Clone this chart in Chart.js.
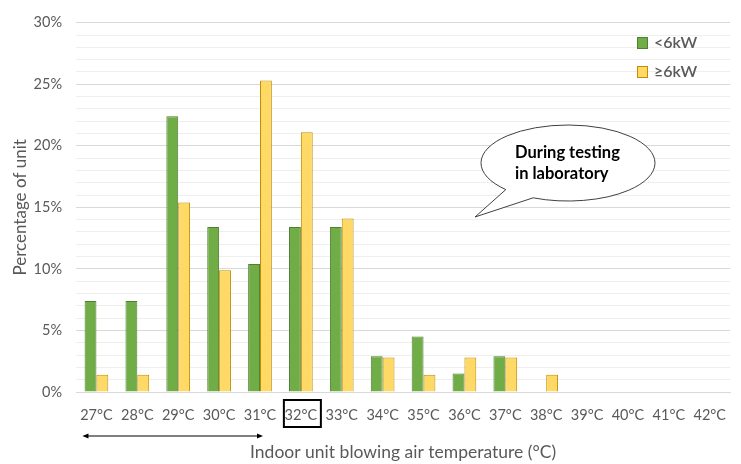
<!DOCTYPE html>
<html>
<head>
<meta charset="utf-8">
<script src="https://cdn.jsdelivr.net/npm/chart.js@4"></script>
<style>
  html, body { margin: 0; padding: 0; background: #fff; }
  #wrap { width: 741px; height: 464px; position: relative; }
</style>
</head>
<body>
<div id="wrap"><canvas id="c" width="741" height="464"></canvas></div>
<script>
const categories = ['27°C','28°C','29°C','30°C','31°C','32°C','33°C','34°C','35°C','36°C','37°C','38°C','39°C','40°C','41°C','42°C'];
const seriesNames = ['<6kW', '≥6kW'];
const smallUnits = [7.4, 7.4, 22.4, 13.4, 10.4, 13.4, 13.4, 2.9, 4.5, 1.5, 2.9, 0, 0, 0, 0, 0];
const largeUnits = [1.4, 1.4, 15.4, 9.9, 25.3, 21.1, 14.1, 2.8, 1.4, 2.8, 2.8, 1.4, 0, 0, 0, 0];
const yTickValues = [0, 5, 10, 15, 20, 25, 30];
const boxedCategory = '32°C';
const arrowFrom = '27°C', arrowTo = '31°C';
const bubbleLines = ['During testing', 'in laboratory'];
const xTitle = 'Indoor unit blowing air temperature (°C)';
const yTitle = 'Percentage of unit';

const FONT = 'Lato, "Open Sans", sans-serif';
const GREY = '#595959';

const extras = {
  id: 'extras',
  afterDraw(chart) {
    const ctx = chart.ctx;
    const xs = chart.scales.x;
    ctx.save();
    // box around 32°C
    const bx = xs.getPixelForValue(categories.indexOf(boxedCategory));
    ctx.strokeStyle = '#000';
    ctx.lineWidth = 2;
    ctx.strokeRect(bx - 17, 400, 37, 27);
    // double arrow
    const ax1 = xs.getPixelForValue(categories.indexOf(arrowFrom)) - 14;
    const ax2 = xs.getPixelForValue(categories.indexOf(arrowTo)) + 3;
    const ay = 436;
    ctx.lineWidth = 1;
    ctx.strokeStyle = '#000';
    ctx.fillStyle = '#000';
    ctx.beginPath(); ctx.moveTo(ax1 + 2, ay); ctx.lineTo(ax2 - 2, ay); ctx.stroke();
    ctx.beginPath(); ctx.moveTo(ax1, ay); ctx.lineTo(ax1 + 6, ay - 2.5); ctx.lineTo(ax1 + 6, ay + 2.5); ctx.closePath(); ctx.fill();
    ctx.beginPath(); ctx.moveTo(ax2, ay); ctx.lineTo(ax2 - 6, ay - 2.5); ctx.lineTo(ax2 - 6, ay + 2.5); ctx.closePath(); ctx.fill();
    // legend
    ctx.font = '600 16px ' + FONT;
    ctx.textBaseline = 'middle';
    ctx.textAlign = 'left';
    chart.data.datasets.forEach((ds, i) => {
      const ly = 43 + i * 29;
      ctx.fillStyle = ds.backgroundColor;
      ctx.fillRect(637, ly - 6, 11, 12);
      ctx.strokeStyle = ds.borderColor;
      ctx.lineWidth = 1;
      ctx.strokeRect(637.5, ly - 5.5, 10, 11);
      ctx.fillStyle = GREY;
      ctx.fillText(ds.label, 654, ly);
    });
    // speech bubble
    const cx = 568, cy = 163, rx = 87, ry = 38;
    const a1 = 135.6 * Math.PI / 180, a2 = (360 + 113.6) * Math.PI / 180;
    ctx.beginPath();
    ctx.ellipse(cx, cy, rx, ry, 0, a1, a2, false);
    ctx.lineTo(475, 217);
    ctx.closePath();
    ctx.fillStyle = '#fff';
    ctx.fill();
    ctx.strokeStyle = '#404040';
    ctx.lineWidth = 1;
    ctx.stroke();
    ctx.fillStyle = '#000';
    ctx.font = 'bold 16.5px ' + FONT;
    ctx.textAlign = 'left';
    ctx.fillText(bubbleLines[0], 515, 153);
    ctx.fillText(bubbleLines[1], 515, 174);
    ctx.restore();
  }
};

new Chart(document.getElementById('c'), {
  type: 'bar',
  data: {
    labels: categories,
    datasets: [
      { label: seriesNames[0], data: smallUnits, backgroundColor: '#70AD47', borderColor: '#507E32', borderWidth: 1 },
      { label: seriesNames[1], data: largeUnits, backgroundColor: '#FFD966', borderColor: '#BF9000', borderWidth: 1 }
    ]
  },
  options: {
    responsive: false,
    animation: false,
    devicePixelRatio: 1,
    layout: { padding: { top: 20, right: 0, left: 0, bottom: 0 } },
    datasets: { bar: { categoryPercentage: 0.58, barPercentage: 1.0 } },
    plugins: { legend: { display: false }, tooltip: { enabled: false } },
    scales: {
      x: {
        grid: { display: false, drawTicks: false },
        border: { display: true, color: '#d9d9d9' },
        ticks: { color: GREY, font: { family: FONT, size: 14.5 }, padding: 15, maxRotation: 0, autoSkip: false },
        title: { display: true, text: xTitle, color: GREY, font: { family: FONT, size: 17.5 }, padding: { top: 0, bottom: 1 } },
        afterFit(s) { s.height = 72; }
      },
      y: {
        min: 0, max: 30,
        grid: {
          drawTicks: false,
          color: ctx => (ctx.tick && ctx.tick.value % 5 === 0) ? '#d9d9d9' : '#eeeeee',
          lineWidth: 1
        },
        border: { display: false },
        ticks: {
          stepSize: 1,
          autoSkip: false,
          padding: 14,
          color: GREY,
          font: { family: FONT, size: 14.5 },
          callback: v => yTickValues.includes(v) ? v + '%' : ''
        },
        title: { display: true, text: yTitle, color: GREY, font: { family: FONT, size: 17 }, padding: { top: 10, bottom: 0 } },
        afterFit(s) { s.width = 76; }
      }
    }
  },
  plugins: [extras]
});
</script>
</body>
</html>
